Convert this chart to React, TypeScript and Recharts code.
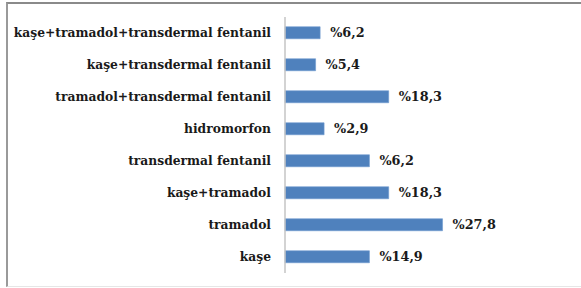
import { BarChart, Bar, XAxis, YAxis, LabelList } from "recharts";

// Categories top to bottom, as in the reference.
const categories = [
  "kaşe+tramadol+transdermal fentanil",
  "kaşe+transdermal fentanil",
  "tramadol+transdermal fentanil",
  "hidromorfon",
  "transdermal fentanil",
  "kaşe+tramadol",
  "tramadol",
  "kaşe",
];

// Bar lengths as drawn (the printed percentages don't always match them).
const barValues = [6.2, 5.4, 18.3, 6.9, 14.9, 18.3, 27.8, 14.9];

// Labels printed next to each bar.
const valueLabels = ["%6,2", "%5,4", "%18,3", "%2,9", "%6,2", "%18,3", "%27,8", "%14,9"];

const data = categories.map((name, i) => ({
  name,
  value: barValues[i],
  label: valueLabels[i],
}));

const FONT = "'DejaVu Serif', 'Liberation Serif', serif";

export default function App() {
  return (
    <div style={{ position: "fixed", left: 0, top: 0, width: 581, height: 288, background: "#fff", overflow: "hidden" }}>
      <div
        style={{
          position: "absolute",
          left: 6,
          top: 2,
          width: 620,
          height: 282,
          borderLeft: "2px solid #9a9a9a",
          borderTop: "2px solid #8a8a8a",
          borderBottom: "1px solid #e6e6e6",
        }}
      />
      <div style={{ position: "absolute", left: 0, top: 0 }}>
        <BarChart
          width={581}
          height={288}
          data={data}
          layout="vertical"
          margin={{ top: 17, right: 126, bottom: 15, left: 0 }}
          barCategoryGap="30.5%"
        >
          <XAxis type="number" domain={[0, 30]} hide />
          <YAxis
            type="category"
            dataKey="name"
            width={285}
            axisLine={{ stroke: "#c4c4c4", strokeWidth: 1.5 }}
            tickLine={false}
            tickSize={0}
            tickMargin={14}
            tick={{ fill: "#1a1a1a", fontFamily: FONT, fontWeight: 700, fontSize: 12.3 }}
            interval={0}
          />
          <Bar dataKey="value" fill="#4f81bd" stroke="#6f9ad0" strokeWidth={0.6} isAnimationActive={false}>
            <LabelList
              dataKey="label"
              position="right"
              offset={10}
              fill="#1a1a1a"
              fontFamily={FONT}
              fontWeight={700}
              fontSize={12.8}
            />
          </Bar>
        </BarChart>
      </div>
    </div>
  );
}
